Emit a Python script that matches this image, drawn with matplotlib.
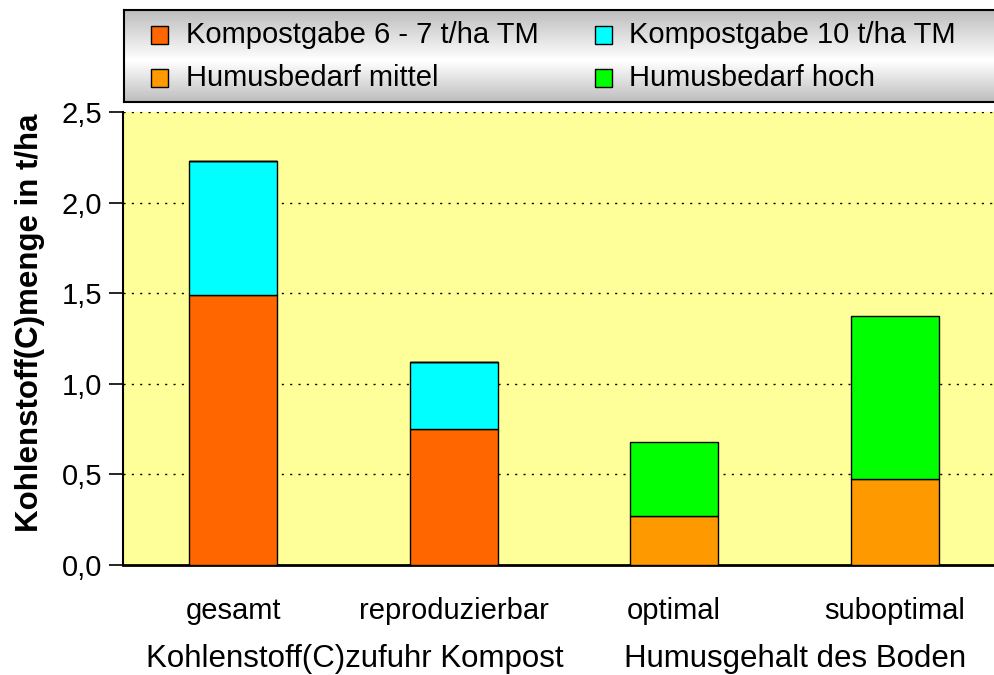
import numpy as np
import matplotlib
matplotlib.use("Agg")
import matplotlib.pyplot as plt
from matplotlib.patches import Rectangle

plt.rcParams['font.family'] = ['Liberation Sans', 'DejaVu Sans']

categories = ["gesamt", "reproduzierbar", "optimal", "suboptimal"]
groups = ["Kohlenstoff(C)zufuhr Kompost", "Humusgehalt des Boden"]
series_names = ["Kompostgabe 6 - 7 t/ha TM", "Kompostgabe 10 t/ha TM",
                "Humusbedarf mittel", "Humusbedarf hoch"]
kompost_6_7 = [1.49, 0.75, 0.0, 0.0]
kompost_10_extra = [0.74, 0.37, 0.0, 0.0]
humus_mittel = [0.0, 0.0, 0.27, 0.475]
humus_hoch_extra = [0.0, 0.0, 0.41, 0.90]
yticks = [0.0, 0.5, 1.0, 1.5, 2.0, 2.5]
ytick_labels = ["0,0", "0,5", "1,0", "1,5", "2,0", "2,5"]

colors = ["#FF6600", "#00FFFF", "#FF9900", "#00FF00"]

W, H = 995, 675
fig = plt.figure(figsize=(W / 100, H / 100), dpi=100)

ax = fig.add_axes([123 / W, 1 - 565 / H, (1005 - 123) / W, (565 - 112) / H])
ax.set_facecolor("#FFFF99")
x = np.arange(len(categories))
bw = 0.4
k1 = np.array(kompost_6_7)
k2 = np.array(kompost_10_extra)
h1 = np.array(humus_mittel)
h2 = np.array(humus_hoch_extra)
ax.bar(x, k1, bw, color=colors[0], edgecolor="black", linewidth=1, zorder=3)
ax.bar(x, k2, bw, bottom=k1, color=colors[1], edgecolor="black", linewidth=1, zorder=3)
ax.bar(x, h1, bw, bottom=k1 + k2, color=colors[2], edgecolor="black", linewidth=1, zorder=3)
ax.bar(x, h2, bw, bottom=k1 + k2 + h1, color=colors[3], edgecolor="black", linewidth=1, zorder=3)

ax.set_xlim(-0.5, 3.5)
ax.set_ylim(0, 2.5)
ax.set_yticks(yticks)
ax.set_yticklabels(ytick_labels, fontsize=21)
ax.tick_params(axis='y', direction='out', length=10, width=1.2, pad=5)
ax.set_xticks([])
for yv in yticks[1:]:
    ax.axhline(yv, color="black", linestyle=(0, (1.5, 4.5)), linewidth=1, zorder=1)
for s in ["top", "right"]:
    ax.spines[s].set_visible(False)
ax.spines["left"].set_linewidth(1.5)
ax.spines["bottom"].set_linewidth(2)

fig.text(30 / W, 1 - 323 / H, "Kohlenstoff(C)menge in t/ha", fontsize=22.5,
         fontweight="bold", rotation=90, ha="center", va="center")

for xi, lab in zip(x, categories):
    ax.text(xi, -0.255, lab, ha="center", va="center", fontsize=21,
            transform=ax.transData)
for gi, g in enumerate(groups):
    ax.text(2 * gi + 0.55, -0.52, g, ha="center", va="center", fontsize=22.5,
            transform=ax.transData, clip_on=False)

# legend box with gradient
lax = fig.add_axes([124 / W, 1 - 102 / H, (1000 - 124) / W, (102 - 10) / H])
grad = np.concatenate([np.linspace(0.74, 1.0, 55), np.linspace(1.0, 0.74, 45)])
img = np.repeat(grad[:, None], 2, axis=1)
lax.imshow(img, cmap="gray", vmin=0, vmax=1, aspect="auto",
           extent=[0, 1, 1, 0])
lax.set_xlim(0, 1)
lax.set_ylim(1, 0)
lax.set_xticks([])
lax.set_yticks([])
for s in lax.spines.values():
    s.set_linewidth(1.5)

leg_pos = [(160, 35), (603, 35), (160, 78), (603, 78)]
for (px, py), name, c in zip(leg_pos, series_names, colors):
    fig.patches.append(Rectangle((px / W - 8.5 / W, 1 - py / H - 8.5 / H), 17 / W, 17 / H,
                                 transform=fig.transFigure, facecolor=c,
                                 edgecolor="black", linewidth=1, zorder=5))
    fig.text((px + 26) / W, 1 - py / H, name, ha="left", va="center", fontsize=21)

fig.savefig("out.png", dpi=100)
